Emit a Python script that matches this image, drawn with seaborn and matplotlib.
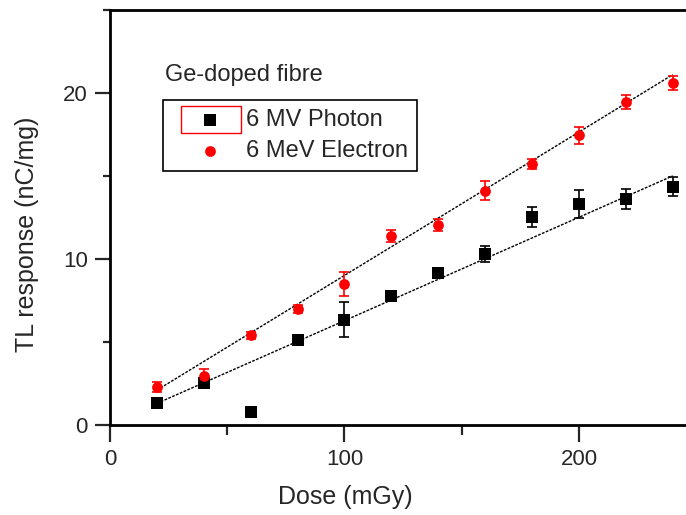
import numpy as np
import seaborn as sns
import matplotlib.pyplot as plt
from matplotlib.patches import Rectangle
from matplotlib.ticker import MultipleLocator

# dose points (mGy)
dose = [20, 40, 60, 80, 100, 120, 140, 160, 180, 200, 220, 240]

# 6 MV photon
photon_tl = [1.3, 2.55, 0.8, 5.1, 6.35, 7.75, 9.15, 10.3, 12.55, 13.3, 13.6, 14.35]
photon_err = [0.2, 0.2, 0.2, 0.15, 1.05, 0.2, 0.3, 0.5, 0.6, 0.85, 0.6, 0.57]

# 6 MeV electron
electron_tl = [2.3, 2.95, 5.4, 7.0, 8.5, 11.4, 12.05, 14.1, 15.75, 17.45, 19.45, 20.6]
electron_err = [0.3, 0.4, 0.2, 0.25, 0.7, 0.35, 0.35, 0.57, 0.3, 0.5, 0.4, 0.4]

# linear fits (slope, intercept), drawn over 20-240 mGy
fit_range = [20, 240]
photon_fit = (0.0623, 0.055)
electron_fit = (0.0864, 0.37)

sns.set_style("ticks")
plt.rcParams['font.family'] = ['Liberation Sans', 'DejaVu Sans']

fig = plt.figure(figsize=(6.86, 5.15), dpi=100)
ax = fig.add_axes([110 / 686, 90 / 515, 578 / 686, 415 / 515])

# fit lines
fit_x = np.array(fit_range)
for slope, icpt in (photon_fit, electron_fit):
    sns.lineplot(x=fit_x, y=slope * fit_x + icpt, ax=ax, color="black",
                 linewidth=1.0, linestyle=(0, (2, 1)))

# error bars
ax.errorbar(dose, photon_tl, yerr=photon_err, fmt="none", ecolor="black",
            elinewidth=1.2, capsize=3.5, capthick=1.2, zorder=2)
ax.errorbar(dose, electron_tl, yerr=electron_err, fmt="none", ecolor="red",
            elinewidth=1.2, capsize=3.5, capthick=1.2, zorder=2)

# markers
sns.scatterplot(x=dose, y=photon_tl, ax=ax, marker="s", color="black", s=75,
                edgecolor="black", linewidth=0, label="6 MV Photon", zorder=3)
sns.scatterplot(x=dose, y=electron_tl, ax=ax, marker="o", color="red", s=60,
                edgecolor="red", linewidth=0, label="6 MeV Electron", zorder=3)

ax.set_xlim(0, 246.5)
ax.set_ylim(0, 25)

ax.xaxis.set_major_locator(MultipleLocator(100))
ax.xaxis.set_minor_locator(MultipleLocator(50))
ax.yaxis.set_major_locator(MultipleLocator(10))
ax.yaxis.set_minor_locator(MultipleLocator(5))

for side in ["left", "bottom", "top", "right"]:
    ax.spines[side].set_linewidth(2.0)
    ax.spines[side].set_color("black")

ax.tick_params(axis="x", which="major", direction="out", length=12, width=1.6,
               labelsize=16, pad=5, top=False)
ax.tick_params(axis="x", which="minor", direction="out", length=7, width=1.6, top=False)
ax.tick_params(axis="y", which="major", direction="out", length=11, width=1.6,
               labelsize=16, pad=5)
ax.tick_params(axis="y", which="minor", direction="out", length=5, width=1.6)
ax.tick_params(axis="y", which="major", right=True)
ax.tick_params(axis="y", which="minor", right=False)

ax.set_xlabel("Dose (mGy)", fontsize=18)
ax.set_ylabel("TL response (nC/mg)", fontsize=18)
ax.xaxis.set_label_coords(0.407, -0.145)
ax.yaxis.set_label_coords(-0.122, 0.46)

leg = ax.legend(loc="upper left", bbox_to_anchor=(0.0917, 0.783), borderaxespad=0,
                fontsize=17, frameon=True, fancybox=False, edgecolor="black",
                framealpha=1, handletextpad=-0.1, borderpad=0.4, labelspacing=0.36,
                handlelength=3.2)
leg.get_frame().set_linewidth(1.2)

ax.text(0.095, 0.843, "Ge-doped fibre", transform=ax.transAxes, fontsize=17,
        va="center", ha="left")

# red selection box around the photon legend symbol
fig.patches.append(Rectangle((181 / 686, 382 / 515), 60 / 686, 27 / 515,
                             transform=fig.transFigure, fill=False,
                             edgecolor="red", linewidth=1.0))

fig.savefig("out.png", dpi=100)
